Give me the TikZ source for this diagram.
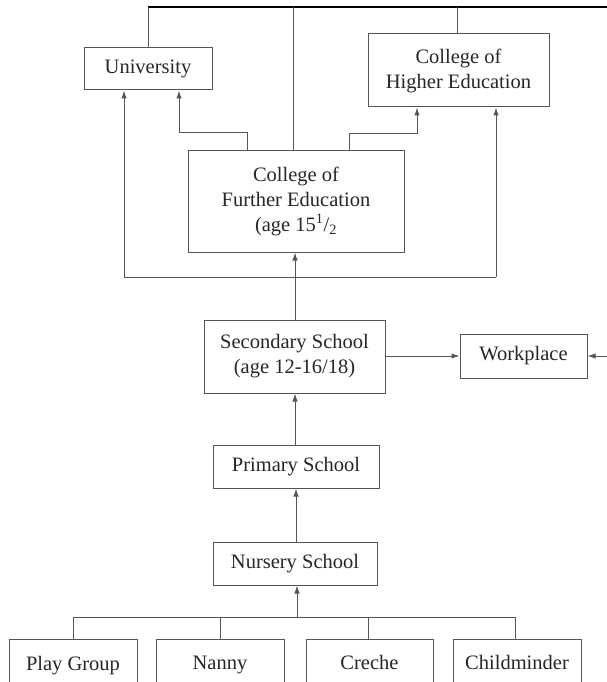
\documentclass[tikz,border=0pt]{standalone}
\usepackage{fontspec}
\setmainfont{Liberation Serif}
\usetikzlibrary{arrows.meta}
\definecolor{lc}{HTML}{555555}
\newcommand{\sfrac}{\textsuperscript{1}/\textsubscript{2}}
\tikzset{
  box/.style={draw=lc, line width=1pt, fill=white, inner sep=0pt, align=center,
    font=\fontsize{20.5}{25}\selectfont, text=black!85},
  ln/.style={draw=lc, line width=1pt},
  arr/.style={ln, -{Latex[length=8pt,width=5.5pt]}},
  topln/.style={draw=black, line width=1.6pt}
}
\begin{document}
\begin{tikzpicture}[x=1pt,y=-1pt]
\useasboundingbox (0,0) rectangle (607,682);
\clip (0,0) rectangle (607,682);
% nodes
\node[box, minimum width=128pt, minimum height=42pt] (univ) at (148,69) {University};
\node[box, minimum width=181pt, minimum height=73pt] (che) at (458.5,70.5) {College of\\Higher Education};
\node[box, minimum width=216pt, minimum height=102pt] (cfe) at (296,201) {College of\\Further Education\\(age 15\sfrac};
\node[box, minimum width=181pt, minimum height=73pt] (sec) at (294.5,356.5) {Secondary School\\(age 12-16/18)};
\node[box, minimum width=127pt, minimum height=44pt] (work) at (523.5,356) {Workplace};
\node[box, minimum width=166pt, minimum height=43pt] (prim) at (296,466.5) {Primary School};
\node[box, minimum width=164pt, minimum height=43pt] (nurs) at (295,563.5) {Nursery School};
\node[box, minimum width=128pt, minimum height=56pt, text depth=0pt] (play) at (73,667) {\raisebox{8pt}{Play Group}};
\node[box, minimum width=128pt, minimum height=56pt] (nanny) at (220,667) {\raisebox{8pt}{Nanny}};
\node[box, minimum width=127pt, minimum height=56pt] (creche) at (369.5,667) {\raisebox{10pt}{Creche}};
\node[box, minimum width=128pt, minimum height=56pt] (child) at (517,667) {\raisebox{10pt}{Childminder}};
% coordinates
\coordinate (topL) at (148,7);
\coordinate (topR) at (607,7);
\coordinate (topM) at (293,7);
\coordinate (topC) at (457,7);
\coordinate (wr) at (607,356);
\coordinate (hl) at (124,277);
\coordinate (hr) at (496,277);
\coordinate (bj) at (297,617);
% top bar
\draw[topln] (topL) -- (topR);
\draw[ln] (univ.north) -- (topL);
\draw[ln] (che.north -| topC) -- (topC);
\draw[ln] (cfe.north -| topM) -- (topM);
% upward arrows
\draw[ln] (hl) -- (hr);
\draw[arr] (hl) -- (hl |- univ.south);
\draw[arr] (hr) -- (hr |- che.south);
\draw[arr] (sec.north -| 295,0) -- (cfe.south -| 295,0);
\draw[arr] (cfe.north -| 247,0) -- (247,132) -- (179,132) -- (univ.south -| 179,0);
\draw[arr] (cfe.north -| 349,0) -- (349,133) -- (417,133) -- (che.south -| 417,0);
\draw[arr] (sec.east |- work.west) -- (work.west);
\draw[arr] (wr) -- (work.east);
\draw[arr] (prim.north -| 295,0) -- (sec.south -| 295,0);
\draw[arr] (nurs.north -| 296,0) -- (prim.south -| 296,0);
\draw[arr] (bj) -- (nurs.south -| bj);
\draw[ln] (play.north -| 73,0) |- (bj);
\draw[ln] (child.north -| 515,0) |- (bj);
\draw[ln] (nanny.north) -- (nanny.north |- bj);
\draw[ln] (creche.north -| 368,0) -- (368,617);
\end{tikzpicture}
\end{document}
